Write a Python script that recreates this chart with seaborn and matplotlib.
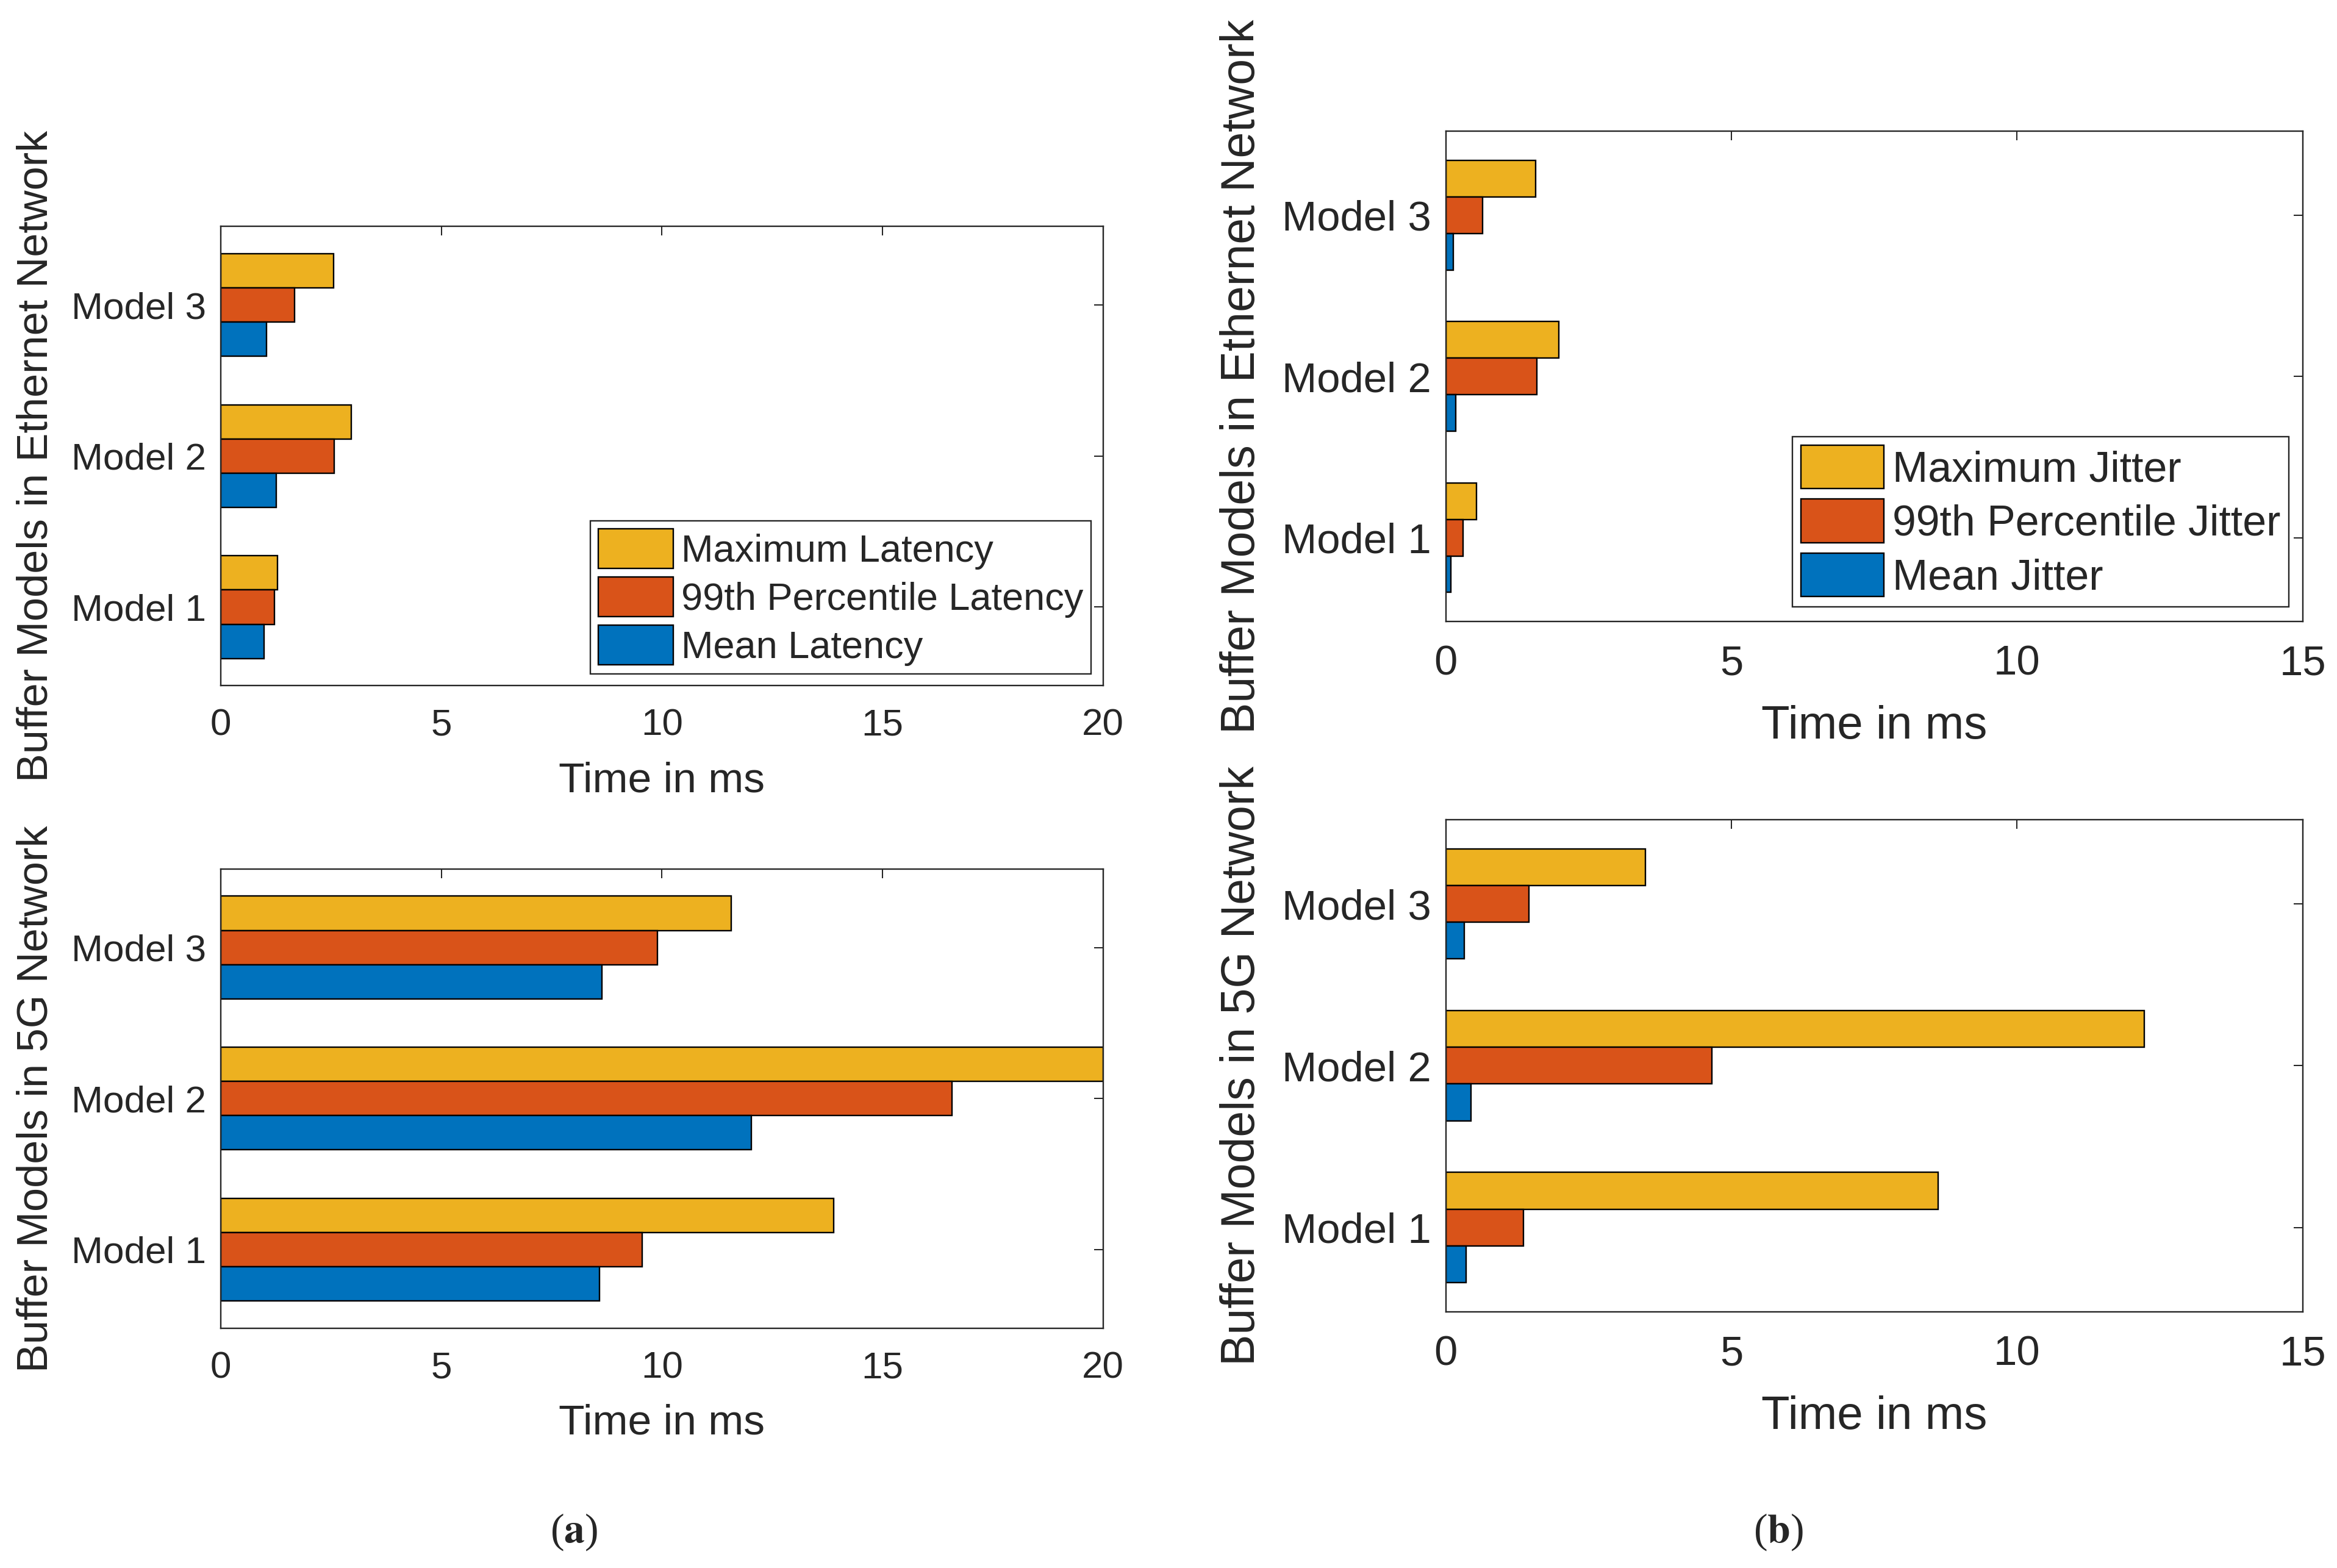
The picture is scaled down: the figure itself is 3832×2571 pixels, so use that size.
import pandas as pd
import matplotlib
matplotlib.use("Agg")
import matplotlib.pyplot as plt
import seaborn as sns

# Values (ms)
models = ["Model 1", "Model 2", "Model 3"]

eth_lat_max = [1.29, 2.96, 2.56]
eth_lat_p99 = [1.22, 2.58, 1.68]
eth_lat_mean = [0.99, 1.26, 1.04]

g5_lat_max = [13.89, 20.0, 11.57]
g5_lat_p99 = [9.56, 16.57, 9.90]
g5_lat_mean = [8.59, 12.03, 8.64]

eth_jit_max = [0.54, 1.98, 1.57]
eth_jit_p99 = [0.30, 1.59, 0.64]
eth_jit_mean = [0.09, 0.18, 0.13]

g5_jit_max = [8.62, 12.23, 3.49]
g5_jit_p99 = [1.36, 4.66, 1.46]
g5_jit_mean = [0.36, 0.44, 0.32]

lat_labels = ["Maximum Latency", "99th Percentile Latency", "Mean Latency"]
jit_labels = ["Maximum Jitter", "99th Percentile Jitter", "Mean Jitter"]
lat_ticks = [0, 5, 10, 15, 20]
jit_ticks = [0, 5, 10, 15]

colors = ["#EDB120", "#D95319", "#0072BD"]
TXT = "#262626"

sns.set_theme(style="white")
plt.rcParams["font.family"] = ["Liberation Sans", "DejaVu Sans"]
plt.rcParams["text.color"] = TXT
plt.rcParams["axes.labelcolor"] = TXT
plt.rcParams["xtick.color"] = TXT
plt.rcParams["ytick.color"] = TXT


def make_df(series, labels):
    rows = []
    for vals, lab in zip(series, labels):
        for m, v in zip(models, vals):
            rows.append({"model": m, "value": v, "metric": lab})
    return pd.DataFrame(rows)


fig = plt.figure(figsize=(15.68, 10.52), dpi=244.4)

panels = [
    # rect, series, labels, xlim, ticks, ylabel, legend, fs, legend anchor, xlabel y, ylabel x
    ([0.0944, 0.5627, 0.3776, 0.2928], [eth_lat_max, eth_lat_p99, eth_lat_mean], lat_labels,
     20, lat_ticks, "Buffer Models in Ethernet Network", True, 18.3, (0.986, 0.026), -0.165, -0.186),
    ([0.0944, 0.1530, 0.3776, 0.2928], [g5_lat_max, g5_lat_p99, g5_lat_mean], lat_labels,
     20, lat_ticks, "Buffer Models in 5G Network", False, 18.3, None, -0.165, -0.186),
    ([0.6186, 0.6036, 0.3667, 0.3127], [eth_jit_max, eth_jit_p99, eth_jit_mean], jit_labels,
     15, jit_ticks, "Buffer Models in Ethernet Network", True, 20.3, (0.984, 0.030), -0.17, -0.212),
    ([0.6186, 0.1635, 0.3667, 0.3137], [g5_jit_max, g5_jit_p99, g5_jit_mean], jit_labels,
     15, jit_ticks, "Buffer Models in 5G Network", False, 20.3, None, -0.17, -0.212),
]

for rect, series, labels, xmax, ticks, ylab, show_leg, fs, anchor, xly, ylx in panels:
    ax = fig.add_axes(rect)
    df = make_df(series, labels)
    sns.barplot(data=df, x="value", y="model", hue="metric",
                order=models[::-1], hue_order=labels, palette=colors,
                saturation=1, orient="h", width=0.68, edgecolor="black",
                linewidth=0.7, legend=show_leg, ax=ax)
    ax.set_xlim(0, xmax)
    ax.set_ylim(2.52, -0.52)
    ax.set_xticks(ticks)
    ax.set_xticklabels([str(t) for t in ticks])
    ax.tick_params(axis="both", direction="in", top=True, right=True,
                   length=4.5, width=0.6, labelsize=fs)
    ax.tick_params(axis="x", pad=11)
    ax.tick_params(axis="y", pad=7)
    for sp in ax.spines.values():
        sp.set_color(TXT)
        sp.set_linewidth(0.7)
    ax.set_xlabel("Time in ms", fontsize=fs + 2.2)
    ax.set_ylabel(ylab, fontsize=fs + 2.4)
    ax.xaxis.set_label_coords(0.5, xly)
    ax.yaxis.set_label_coords(ylx, 0.5)
    if show_leg:
        leg = ax.legend(loc="lower right", bbox_to_anchor=anchor, borderaxespad=0,
                        fontsize=fs + 0.3, fancybox=False, framealpha=1,
                        handlelength=1.95, handleheight=1.2, handletextpad=0.2,
                        labelspacing=0.2, borderpad=0.2, title=None)
        leg.get_frame().set_edgecolor(TXT)
        leg.get_frame().set_linewidth(0.7)

fig.text(0.2455, 0.023, r"($\mathbf{a}$)", ha="center", va="center", fontsize=20,
         family="Liberation Serif", math_fontfamily="stix")
fig.text(0.7608, 0.023, r"($\mathbf{b}$)", ha="center", va="center", fontsize=20,
         family="Liberation Serif", math_fontfamily="stix")

fig.savefig("out.png", dpi=244.4)
